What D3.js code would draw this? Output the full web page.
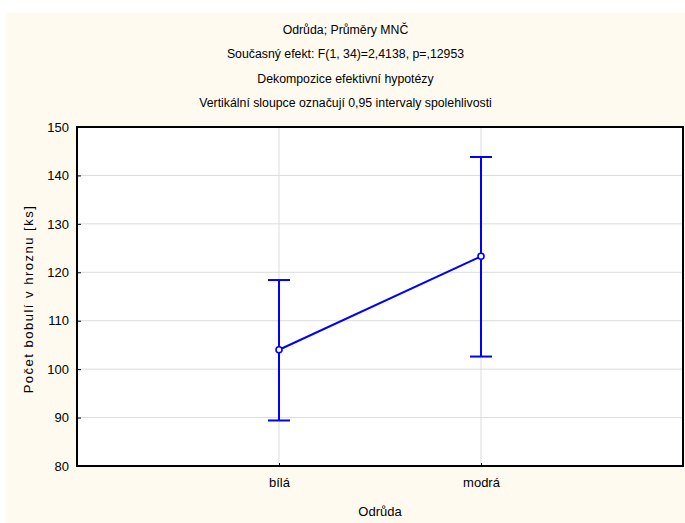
<!DOCTYPE html>
<html>
<head>
<meta charset="utf-8">
<script src="https://cdn.jsdelivr.net/npm/d3@7"></script>
<style>
  html, body { margin: 0; padding: 0; background: #ffffff; }
  svg { display: block; }
  text { font-family: "Liberation Sans", Arial, sans-serif; fill: #000; }
</style>
</head>
<body>
<svg id="chart" width="685" height="523"></svg>
<script>
// Category labels and 0.95 confidence intervals for the LS means
const categories = ["bílá", "modrá"];
const means = [104.0, 123.3];
const lower = [89.4, 102.6];
const upper = [118.4, 143.8];
const yTicks = [80, 90, 100, 110, 120, 130, 140, 150];
const titleLines = [
  "Odrůda; Průměry MNČ",
  "Současný efekt: F(1, 34)=2,4138, p=,12953",
  "Dekompozice efektivní hypotézy",
  "Vertikální sloupce označují 0,95 intervaly spolehlivosti"
];
const xTitle = "Odrůda";
const yTitle = "Počet bobulí v hroznu [ks]";

const svg = d3.select("#chart");
const W = 685, H = 523;
const frame = { left: 6, top: 13 };
const plot = { left: 77, top: 127, right: 683, bottom: 466 };

// outer panel
svg.append("rect")
  .attr("x", frame.left).attr("y", frame.top)
  .attr("width", W - frame.left).attr("height", H - frame.top)
  .attr("fill", "#fffaf0");

// titles
const cx = (frame.left + W) / 2;
svg.selectAll("text.title").data(titleLines).join("text")
  .attr("class", "title")
  .attr("x", cx)
  .attr("y", (d, i) => 33.5 + i * 24.6)
  .attr("text-anchor", "middle")
  .attr("font-size", 12.3)
  .text(d => d);

const x = d3.scalePoint().domain(categories).range([plot.left, plot.right]).padding(1);
const y = d3.scaleLinear().domain([80, 150]).range([plot.bottom, plot.top]);

// plot background
svg.append("rect")
  .attr("x", plot.left).attr("y", plot.top)
  .attr("width", plot.right - plot.left).attr("height", plot.bottom - plot.top)
  .attr("fill", "#ffffff");

// grid
svg.append("g")
  .selectAll("line").data(yTicks.slice(1, -1)).join("line")
  .attr("x1", plot.left).attr("x2", plot.right)
  .attr("y1", d => y(d)).attr("y2", d => y(d))
  .attr("stroke", "#dcdcdc").attr("stroke-width", 1);
svg.append("g")
  .selectAll("line").data(categories).join("line")
  .attr("x1", d => x(d)).attr("x2", d => x(d))
  .attr("y1", plot.top).attr("y2", plot.bottom)
  .attr("stroke", "#dcdcdc").attr("stroke-width", 1);

// axes
const yAxis = svg.append("g")
  .attr("transform", `translate(${plot.left},0)`)
  .call(d3.axisLeft(y).tickValues(yTicks).tickSize(-4).tickPadding(8));
yAxis.select(".domain").remove();
yAxis.selectAll("line").attr("stroke", "#000");
yAxis.selectAll("text").attr("font-size", 13).attr("font-family", "Liberation Sans, Arial, sans-serif");

const xAxis = svg.append("g")
  .attr("transform", `translate(0,${plot.bottom})`)
  .call(d3.axisBottom(x).tickSize(-3).tickPadding(12));
xAxis.select(".domain").remove();
xAxis.selectAll("line").attr("stroke", "#000");
xAxis.selectAll("text").attr("font-size", 13).attr("font-family", "Liberation Sans, Arial, sans-serif");

// frame border
svg.append("rect")
  .attr("x", plot.left).attr("y", plot.top)
  .attr("width", plot.right - plot.left).attr("height", plot.bottom - plot.top)
  .attr("fill", "none").attr("stroke", "#000").attr("stroke-width", 2);

// axis titles
svg.append("text")
  .attr("x", (plot.left + plot.right) / 2).attr("y", 516)
  .attr("text-anchor", "middle").attr("font-size", 13)
  .text(xTitle);
svg.append("text")
  .attr("transform", `translate(33,299) rotate(-90)`)
  .attr("text-anchor", "middle").attr("font-size", 13)
  .attr("letter-spacing", 1.5)
  .text(yTitle);

// error bars
const blue = "#0000ff";
const data = categories.map((c, i) => ({ c, m: means[i], lo: lower[i], hi: upper[i] }));
const eb = svg.append("g").attr("stroke", blue).attr("stroke-width", 2);
eb.selectAll("line.v").data(data).join("line").attr("class", "v")
  .attr("x1", d => x(d.c)).attr("x2", d => x(d.c))
  .attr("y1", d => y(d.lo)).attr("y2", d => y(d.hi));
eb.selectAll("line.hi").data(data).join("line").attr("class", "hi")
  .attr("x1", d => x(d.c) - 11).attr("x2", d => x(d.c) + 11)
  .attr("y1", d => y(d.hi)).attr("y2", d => y(d.hi));
eb.selectAll("line.lo").data(data).join("line").attr("class", "lo")
  .attr("x1", d => x(d.c) - 11).attr("x2", d => x(d.c) + 11)
  .attr("y1", d => y(d.lo)).attr("y2", d => y(d.lo));

// mean line and markers
svg.append("path")
  .datum(data)
  .attr("fill", "none").attr("stroke", blue).attr("stroke-width", 2)
  .attr("d", d3.line().x(d => x(d.c)).y(d => y(d.m)));
svg.selectAll("circle.mean").data(data).join("circle").attr("class", "mean")
  .attr("cx", d => x(d.c)).attr("cy", d => y(d.m)).attr("r", 3)
  .attr("fill", "#fff").attr("stroke", blue).attr("stroke-width", 1.6);
</script>
</body>
</html>
